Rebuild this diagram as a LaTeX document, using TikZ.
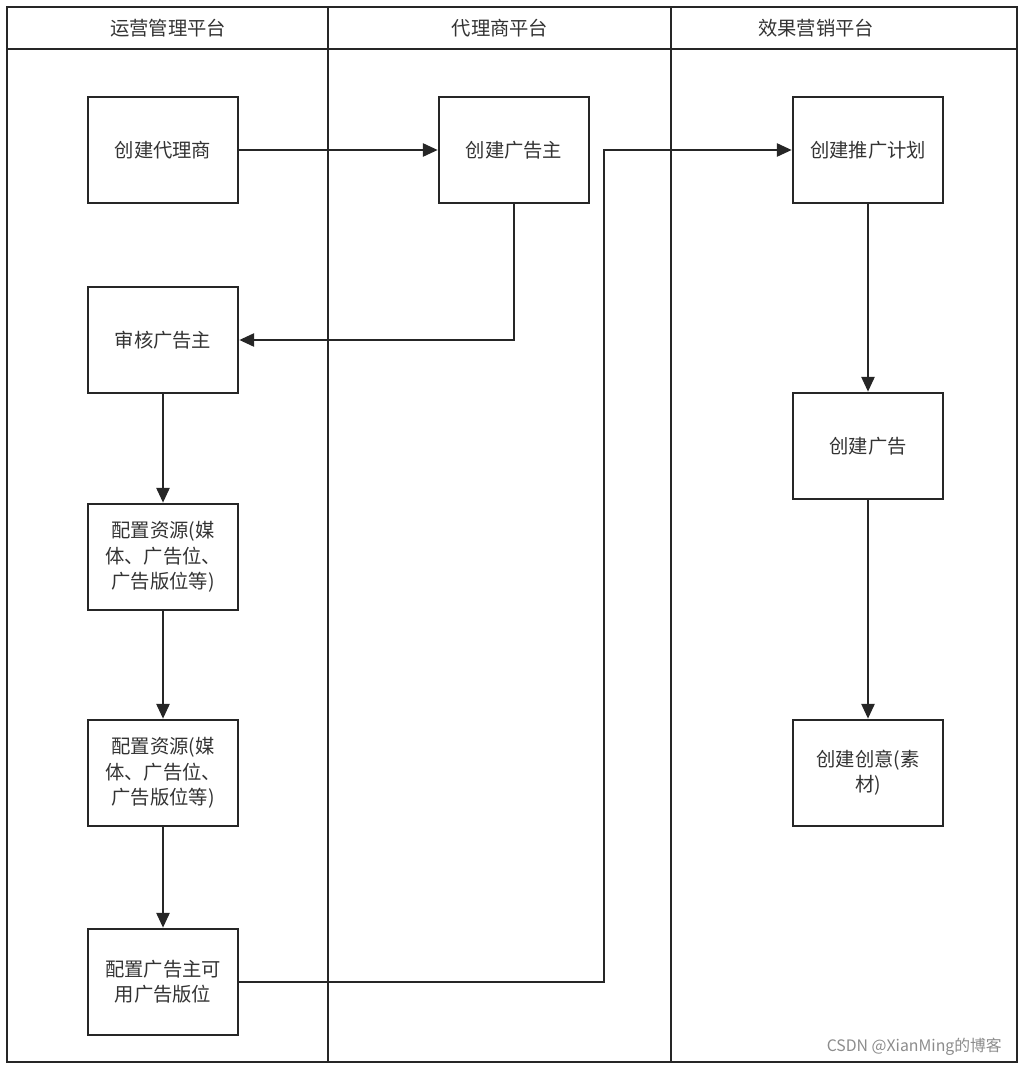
\documentclass[tikz,border=0pt]{standalone}
\usepackage{fontspec}
\setmainfont{Noto Sans CJK SC}
\usetikzlibrary{arrows.meta,positioning}

\begin{document}
\begin{tikzpicture}[x=0.02cm,y=-0.02cm,>={Triangle[length=8.5pt,width=7.5pt]},
  box/.style={draw=black!85,line width=1.5pt,minimum width=3.0cm,minimum height=2.12cm,align=center,inner sep=3pt,font=\fontsize{11}{14.4}\selectfont,text=black!80},
  head/.style={font=\fontsize{11}{14}\selectfont,text=black!80},
  lane/.style={draw=black!85,line width=1.6pt},
  arr/.style={->,draw=black!85,line width=1.3pt}]
\useasboundingbox (0,0) rectangle (1020,1068);
% swimlanes
\draw[lane] (7,7) rectangle (1017,1062);
\draw[lane] (7,49)--(1017,49);
\draw[lane] (328,7)--(328,1062); \draw[lane] (671,7)--(671,1062);
\node[head] (opsh) at (168,28) {运营管理平台};
\node[head] (agth) at (500,28) {代理商平台};
\node[head] (mkth) at (816,28) {效果营销平台};
% boxes
\node[box] (agent) at (163,150) {创建代理商};
\node[box] (audit) at (163,340) {审核广告主};
\node[box] (res1) at (163,557) {配置资源(媒\\体、广告位、\\广告版位等)};
\node[box] (res2) at (163,773) {配置资源(媒\\体、广告位、\\广告版位等)};
\node[box] (slot) at (163,982) {配置广告主可\\用广告版位};
\node[box] (adv) at (514,150) {创建广告主};
\node[box] (plan) at (868,150) {创建推广计划};
\node[box] (ad) at (868,446) {创建广告};
\node[box] (idea) at (868,773) {创建创意(素\\材)};
\coordinate (turn) at (604,982);
% arrows
\draw[arr] (agent)--(adv); \draw[arr] (adv.south) |- (audit.east);
\draw[arr] (audit)--(res1); \draw[arr] (res1)--(res2); \draw[arr] (res2)--(slot);
\draw[arr] (slot.east)--(turn) |- (plan.west);
\draw[arr] (plan)--(ad); \draw[arr] (ad)--(idea);
\node[anchor=east,text=black!45,font=\fontsize{9}{11}\selectfont] (mark) at (1008,1047) {CSDN @XianMing的博客};
\end{tikzpicture}
\end{document}
